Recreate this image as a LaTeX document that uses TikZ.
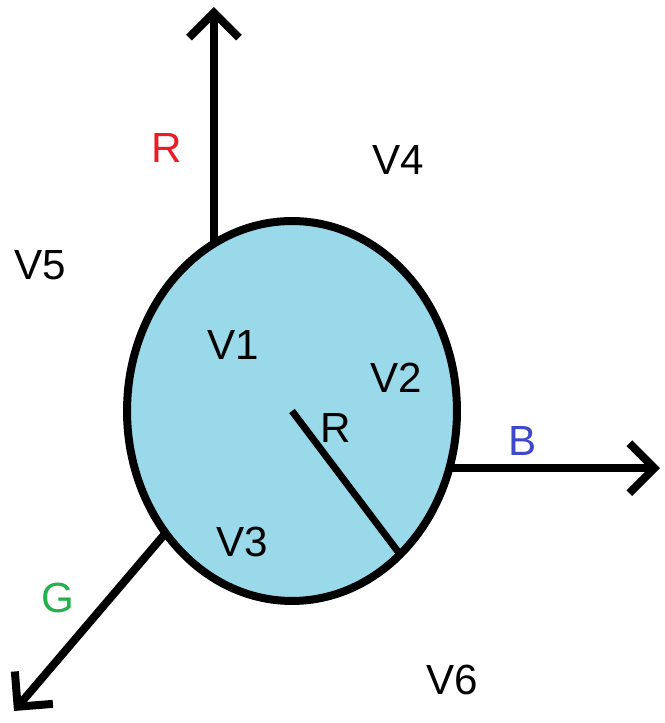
\documentclass[tikz,border=0pt]{standalone}
\usepackage{fontspec}
\setmainfont{Liberation Sans}
\usetikzlibrary{arrows.meta}
\usetikzlibrary{shapes.geometric}
\definecolor{discfill}{HTML}{99D9EA}
\definecolor{paintred}{HTML}{ED1C24}
\definecolor{paintblue}{HTML}{3F48CC}
\definecolor{paintgreen}{HTML}{22B14C}

\begin{document}
\begin{tikzpicture}[
            x=.02cm, y=.02cm,
            disc/.style={ellipse, draw, line width=.16cm, fill=discfill,
                inner sep=0pt, outer sep=0pt,
                minimum width=6.6cm, minimum height=7.6cm},
            axisline/.style={line width=.16cm,
                -{Straight Barb[length=.5cm, width=1cm]}},
            radline/.style={line width=.14cm},
            lbl/.style={font=\fontsize{24}{28}\selectfont},
        ]
            \useasboundingbox (0, 0) rectangle (665, 723);

            %% the sphere and its radius
            \node[disc] (sphere) at (292, 312) {};
            \coordinate (centre) at (292, 312);
            \draw[radline] (centre) -- (sphere.-53);

            %% the three colour axes
            \coordinate (rtip) at (211, 716);
            \coordinate (btip) at (660, 253);
            \coordinate (gtip) at (14, 12);
            \draw[axisline] (sphere.115) -- (sphere.115 |- rtip);
            \draw[axisline] (sphere.-20) -- (sphere.-20 -| btip);
            \draw[axisline] (sphere.-136) -- (gtip);

            \node[lbl, text=paintred] (rlabel) at (167, 575) {R};
            \node[lbl, text=paintblue] (blabel) at (523, 282) {B};
            \node[lbl, text=paintgreen] (glabel) at (58, 125) {G};
            \node[lbl] (radlabel) at (336, 295) {R};

            %% the regions
            \node[lbl] (v1) at (233, 378) {V1};
            \node[lbl] (v2) at (396, 345) {V2};
            \node[lbl] (v3) at (242, 181) {V3};
            \node[lbl] (v4) at (398, 563) {V4};
            \node[lbl] (v5) at (40, 458) {V5};
            \node[lbl] (v6) at (452, 43) {V6};
        \end{tikzpicture}
\end{document}
